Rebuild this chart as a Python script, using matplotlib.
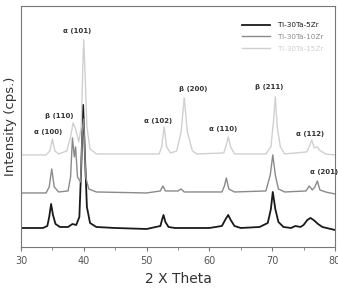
import matplotlib.pyplot as plt

# XRD patterns (2theta, intensity in arbitrary units)
x_5zr = [30, 33.5, 34.2, 34.5, 34.8, 35.1, 35.5, 36.2, 37.5, 38.2, 38.8, 39.3, 39.6, 39.9, 40.2,
         40.5, 41, 42, 45, 50, 52.2, 52.5, 52.7, 53.0, 53.5, 54.5, 60, 62, 62.6, 63, 63.4, 64,
         65, 68, 69.3, 69.8, 70.1, 70.5, 71, 71.8, 73, 73.7, 74.5, 75, 75.6, 76.1, 76.6, 77.3,
         78, 80]
y_5zr = [19, 19, 21, 30, 43, 32, 23, 20, 20, 23, 22, 30, 80, 142, 90,
         40, 24, 20, 19, 18, 21, 28, 32, 25, 20, 19, 19, 21, 28, 32, 27, 21,
         19, 20, 24, 38, 55, 38, 25, 20, 19, 21, 20, 22, 27, 29, 27, 23,
         20, 17]

x_10zr = [30, 34, 34.5, 34.9, 35.3, 36, 37.5, 37.9, 38.2, 38.5, 38.7, 39.0, 39.5, 39.8, 40.0,
          40.3, 40.8, 42, 50, 52.2, 52.6, 53, 55, 55.5, 56, 62, 62.4, 62.7, 63.1, 64, 69, 69.7,
          70.1, 70.5, 71, 72, 75.4, 75.9, 76.4, 76.8, 77.2, 77.6, 78.5, 80]
y_10zr = [54, 54, 60, 78, 60, 55, 56, 70, 109, 90, 100, 70, 65, 120, 128,
          70, 58, 55, 54, 56, 61, 56, 56, 58, 55, 55, 61, 69, 58, 55, 56, 72,
          92, 72, 58, 55, 56, 61, 57, 60, 66, 57, 55, 53]

x_15zr = [30, 34, 34.6, 35, 35.4, 36, 37.3, 37.9, 38.3, 38.7, 39.2, 39.6, 39.85, 40.0, 40.2,
          40.5, 41, 42, 52, 52.4, 52.8, 53.2, 53.8, 54.8, 55.5, 56.0, 56.5, 57.3, 58, 62.3,
          62.7, 63.0, 63.4, 64, 69, 69.8, 70.2, 70.5, 70.8, 71.3, 72, 75.5, 76.0, 76.3,
          76.7, 77.2, 77.5, 78.5, 80]
y_15zr = [92, 92, 96, 108, 96, 93, 96, 110, 124, 118, 105, 120, 180, 207, 175,
          120, 98, 93, 93, 100, 120, 100, 94, 96, 115, 149, 115, 96, 93, 94,
          102, 110, 100, 93, 93, 100, 125, 150, 120, 100, 93, 95, 102, 107,
          99, 100, 97, 93, 92]

series_names = ['Ti-30Ta-5Zr', 'Ti-30Ta-10Zr', 'Ti-30Ta-15Zr']
series_colors = ['#1a1a1a', '#8a8a8a', '#d0d0d0']
series_widths = [1.3, 1.0, 1.0]

# peak labels: (phase, hkl, x, y)
peak_phase = ['α', 'β', 'α', 'α', 'β', 'α', 'β', 'α', 'α']
peak_hkl = ['(100)', '(110)', '(101)', '(102)', '(200)', '(110)', '(211)', '(112)', '(201)']
peak_x = [34.4, 36.1, 38.9, 51.8, 57.4, 62.2, 69.5, 76.0, 78.3]
peak_y = [112, 128, 213, 123, 155, 115, 157, 110, 72]

fig = plt.figure(figsize=(3.38, 2.93), dpi=100)
ax = fig.add_axes([0.062, 0.157, 0.929, 0.823])

for xs, ys, name, c, w in zip([x_5zr, x_10zr, x_15zr], [y_5zr, y_10zr, y_15zr],
                              series_names, series_colors, series_widths):
    ax.plot(xs, ys, color=c, lw=w, label=name)

for ph, hkl, px, py in zip(peak_phase, peak_hkl, peak_x, peak_y):
    ax.text(px, py, ph + ' ' + hkl, fontsize=5, fontweight='bold', color='#333333',
            ha='center', va='bottom', clip_on=False)

ax.set_xlim(30, 80)
ax.set_ylim(0, 241)
ax.set_xticks([30, 40, 50, 60, 70, 80])
ax.set_xticks([35, 45, 55, 65, 75], minor=True)
ax.set_yticks([])
ax.tick_params(axis='x', labelsize=7, labelcolor='#555555', color='#777777', length=3)
ax.tick_params(axis='x', which='minor', length=2, color='#777777')
for s in ax.spines.values():
    s.set_color('#777777')

ax.set_xlabel('2 X Theta', fontsize=10, color='#333333', labelpad=4)
ax.set_ylabel('Intensity (cps.)', fontsize=9.5, color='#333333', labelpad=3)

leg = ax.legend(loc='upper right', bbox_to_anchor=(0.985, 0.96), frameon=False,
                fontsize=5.2, handlelength=3.8, handletextpad=1.2, labelspacing=0.8)
for t, c in zip(leg.get_texts(), series_colors):
    t.set_color(c)

plt.savefig('out.png', dpi=100)
plt.close()
